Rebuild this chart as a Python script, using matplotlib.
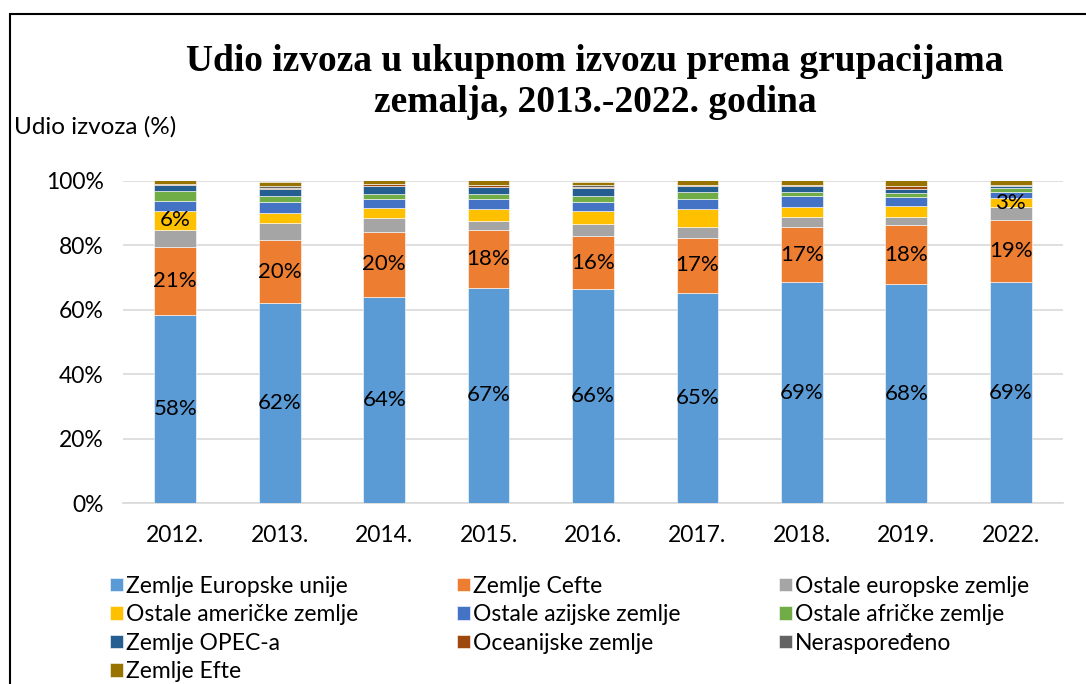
import matplotlib.pyplot as plt
import numpy as np
from matplotlib.patches import Rectangle

plt.rcParams['font.family'] = ['Lato', 'DejaVu Sans']

years = ["2012.", "2013.", "2014.", "2015.", "2016.", "2017.", "2018.", "2019.", "2022."]

# shares in %
eu = [58.4, 62.0, 64.0, 66.8, 66.4, 65.2, 68.6, 68.0, 68.6]
cefta = [21.1, 19.6, 20.3, 18.0, 16.4, 17.2, 17.1, 18.3, 19.3]
ostale_europske = [5.4, 5.2, 4.1, 2.9, 3.8, 3.4, 3.0, 2.6, 3.9]
ostale_americke = [5.7, 3.3, 3.1, 3.6, 4.1, 5.4, 3.3, 3.4, 2.9]
ostale_azijske = [3.1, 3.3, 2.8, 3.0, 2.9, 3.2, 3.4, 2.8, 1.8]
ostale_africke = [3.2, 1.9, 1.7, 1.7, 1.7, 2.2, 1.1, 1.2, 1.2]
opec = [1.9, 2.1, 2.5, 2.1, 2.5, 1.7, 1.9, 1.3, 0.7]
oceanijske = [0.4, 0.5, 0.6, 0.7, 0.4, 0.5, 0.2, 0.7, 0.1]
nerasporedeno = [0.0, 0.4, 0.0, 0.0, 0.4, 0.0, 0.0, 0.2, 0.3]
efte = [1.2, 1.4, 1.2, 1.6, 1.2, 1.6, 1.9, 1.9, 1.6]

series = [
    ("Zemlje Europske unije", eu, "#5B9BD5"),
    ("Zemlje Cefte", cefta, "#ED7D31"),
    ("Ostale europske zemlje", ostale_europske, "#A5A5A5"),
    ("Ostale američke zemlje", ostale_americke, "#FFC000"),
    ("Ostale azijske zemlje", ostale_azijske, "#4472C4"),
    ("Ostale afričke zemlje", ostale_africke, "#70AD47"),
    ("Zemlje OPEC-a", opec, "#255E91"),
    ("Oceanijske zemlje", oceanijske, "#9E480E"),
    ("Neraspoređeno", nerasporedeno, "#636363"),
    ("Zemlje Efte", efte, "#997300"),
]

# which segments get a value label: series index -> bar indices
labelled = {0: range(9), 1: range(9), 3: [0, 8]}

fig = plt.figure(figsize=(10.86, 6.84), dpi=100)
ax = fig.add_axes([0.1133, 0.2646, 0.8655, 0.4708])

x = np.arange(len(years))
bottom = np.zeros(len(years))
handles = []
for i, (name, vals, color) in enumerate(series):
    vals = np.array(vals) / 100
    bars = ax.bar(x, vals, 0.4, bottom=bottom, color=color, label=name,
                  edgecolor="white", linewidth=0.4, zorder=3)
    handles.append(bars)
    for j in labelled.get(i, []):
        ax.text(x[j], bottom[j] + vals[j] / 2, f"{round(vals[j] * 100):.0f}%",
                ha="center", va="center", fontsize=16, color="black", zorder=4)
    bottom += vals

ax.set_xlim(-0.5, len(years) - 0.5)
ax.set_ylim(0, 1.0)
ax.set_yticks(np.arange(0, 1.01, 0.2))
ax.set_yticklabels([f"{int(v * 100)}%" for v in np.arange(0, 1.01, 0.2)])
ax.set_xticks(x)
ax.set_xticklabels(years)
ax.tick_params(axis="both", length=0, labelsize=16.5)
ax.tick_params(axis="y", pad=14)
ax.tick_params(axis="x", pad=16)
ax.grid(axis="y", color="#d9d9d9", linewidth=1.2, zorder=0)
for s in ["top", "right", "left"]:
    ax.spines[s].set_visible(False)
ax.spines["bottom"].set_color("#d9d9d9")
ax.spines["bottom"].set_linewidth(1.2)

fig.text(0.548, 0.880, "Udio izvoza u ukupnom izvozu prema grupacijama\nzemalja, 2013.-2022. godina",
         ha="center", va="center", fontsize=27, fontweight="bold",
         family="Liberation Serif", linespacing=1.2)
fig.text(0.013, 0.815, "Udio izvoza (%)", ha="left", va="center", fontsize=17.5)

# legend fills column by column, so reorder to get the row order of the reference
order = [0, 3, 6, 9, 1, 4, 7, 2, 5, 8]
fig.legend([handles[k] for k in order], [series[k][0] for k in order],
           loc="upper left", bbox_to_anchor=(0.093, 0.172), ncol=3, frameon=False,
           fontsize=16.5, handlelength=0.55, handleheight=0.55, handletextpad=0.15,
           columnspacing=4.3, labelspacing=0.33, borderaxespad=0)

# frame around the chart
fig.add_artist(Rectangle((10 / 1086, -0.05), 1.2, 1 - 14 / 684 + 0.05,
                         transform=fig.transFigure, fill=False,
                         edgecolor="black", linewidth=1.5))

fig.savefig("out.png", dpi=100)
